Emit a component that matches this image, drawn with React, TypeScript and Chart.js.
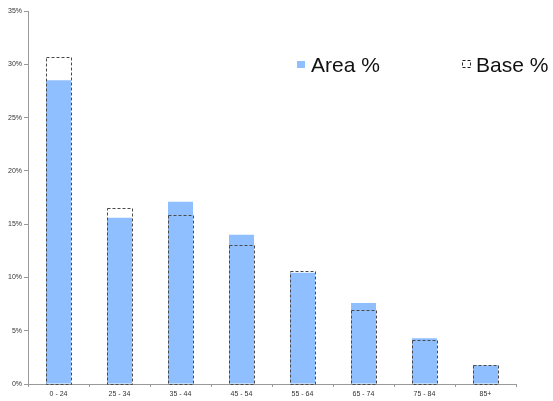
import React, { useEffect, useRef } from "react";
import { Chart, registerables } from "chart.js";

Chart.register(...registerables);

const categories = ["0 - 24", "25 - 34", "35 - 44", "45 - 54", "55 - 64", "65 - 74", "75 - 84", "85+"];
const areaPct = [28.5, 15.6, 17.1, 14.0, 10.45, 7.6, 4.3, 1.75];
const basePct = [30.65, 16.5, 15.85, 13.0, 10.6, 6.9, 4.1, 1.75];
const seriesNames = ["Area %", "Base %"];

const BLUE = "#8FBFFF";
const DASH = "#4a4a4a";

const dashedBars = {
  id: "dashedBars",
  afterDatasetsDraw(chart: any) {
    const meta = chart.getDatasetMeta(1);
    const ctx = chart.ctx;
    ctx.save();
    ctx.setLineDash([3, 2]);
    ctx.strokeStyle = DASH;
    ctx.lineWidth = 1;
    meta.data.forEach((el: any) => {
      const p = el.getProps(["x", "y", "base", "width"], true);
      const left = Math.round(p.x - p.width / 2) + 0.5;
      const top = Math.round(p.y) + 0.5;
      const w = Math.round(p.width);
      const h = Math.round(p.base) - Math.round(p.y);
      ctx.strokeRect(left, top, w, h);
    });
    ctx.restore();
  },
};

const legendPlugin = {
  id: "customLegend",
  afterDraw(chart: any) {
    const ctx = chart.ctx;
    ctx.save();
    ctx.font = "21px 'Liberation Sans', Arial, sans-serif";
    ctx.textBaseline = "alphabetic";
    ctx.fillStyle = BLUE;
    ctx.fillRect(297, 61, 8, 7);
    ctx.fillStyle = "#111";
    ctx.fillText(seriesNames[0], 311, 72);
    ctx.setLineDash([3, 2]);
    ctx.strokeStyle = "#222";
    ctx.lineWidth = 1;
    ctx.strokeRect(462.5, 60.5, 8, 7);
    ctx.setLineDash([]);
    ctx.fillText(seriesNames[1], 476, 72);
    ctx.restore();
  },
};

export default function App() {
  const ref = useRef<HTMLCanvasElement>(null);
  useEffect(() => {
    document.body.style.margin = "0";
    const chart = new Chart(ref.current as HTMLCanvasElement, {
      type: "bar",
      data: {
        labels: categories,
        datasets: [
          {
            label: seriesNames[0],
            data: areaPct,
            backgroundColor: BLUE,
            borderWidth: 0,
            categoryPercentage: 1,
            barPercentage: 0.41,
          },
          {
            label: seriesNames[1],
            data: basePct,
            backgroundColor: "rgba(0,0,0,0)",
            borderWidth: 0,
            categoryPercentage: 1,
            barPercentage: 0.41,
          },
        ],
      },
      options: {
        animation: false,
        responsive: false,
        grouped: false,
        layout: { padding: { top: 11, right: 37, left: 0, bottom: 0 } },
        plugins: { legend: { display: false }, tooltip: { enabled: false } },
        scales: {
          x: {
            afterFit: (s: any) => {
              s.height = 17;
            },
            grid: { display: true, drawOnChartArea: false, drawTicks: true, tickLength: 3, color: "#999", offset: true },
            border: { color: "#999" },
            ticks: {
              font: { size: 7, family: "'Liberation Sans', Arial, sans-serif" },
              color: "#333",
              padding: 3,
              maxRotation: 0,
              autoSkip: false,
            },
          },
          y: {
            min: 0,
            max: 35,
            afterFit: (s: any) => {
              s.width = 28;
            },
            grid: { display: true, drawOnChartArea: false, drawTicks: true, tickLength: 4, color: "#999" },
            border: { color: "#999" },
            ticks: {
              stepSize: 5,
              callback: (v: any) => v + "%",
              font: { size: 7, family: "'Liberation Sans', Arial, sans-serif" },
              color: "#333",
              padding: 2,
            },
          },
        },
      } as any,
      plugins: [dashedBars, legendPlugin],
    });
    return () => chart.destroy();
  }, []);
  return (
    <div style={{ position: "absolute", left: 0, top: 0, width: 553, height: 401, background: "#fff" }}>
      <canvas ref={ref} width={553} height={401} style={{ display: "block" }} />
    </div>
  );
}
